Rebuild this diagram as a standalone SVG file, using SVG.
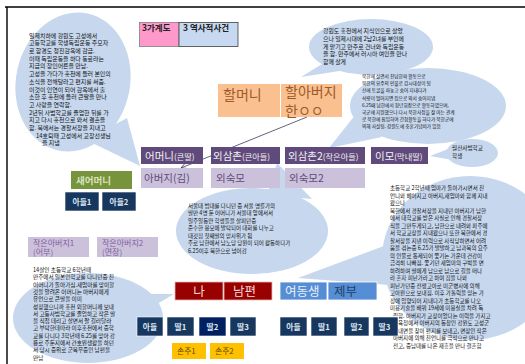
<svg xmlns="http://www.w3.org/2000/svg" width="525" height="364" viewBox="0 0 525 364">
<style>
.cl{fill:#C6D7EE}
.ct{font-family:"Noto Sans CJK KR","Noto Sans",sans-serif;fill:#111}
.k{font-family:"Noto Sans CJK KR","Noto Sans",sans-serif}
.pd{fill:#604A7B}
.pdt{fill:#F2F2F2;font-size:10.5px}
.pdt tspan{font-size:8.2px}
.pl{fill:#CCC1DA}
.plt{fill:#604A7B;font-size:10.5px}
.or{fill:#FAC090}
.ort{fill:#9C5A28;font-size:14px}
.nv{fill:#17375E;stroke:#FFFFFF;stroke-width:0.6}
.nvt{fill:#DCE6F2;font-size:7.8px;font-weight:bold;text-anchor:middle}
.rd{fill:#990000;stroke:#E6B9B8;stroke-width:0.8}
.rdt{fill:#F2DCDB;font-size:12.5px}
.sb{fill:#558ED5;stroke:#FFFFFF;stroke-width:0.8}
.yl{fill:#FFC000}
.ylt{fill:#5C4A00;font-size:7.8px}
.cnt{fill:none;stroke:#3A3F5A;stroke-width:0.8}
</style>
<defs>
<marker id="ah" markerWidth="8" markerHeight="8" refX="6" refY="3" orient="auto" markerUnits="userSpaceOnUse">
<path d="M0,0 L6,3 L0,6" fill="none" stroke="#3A3F5A" stroke-width="0.8"/>
</marker>
</defs>
<rect width="525" height="364" fill="#FFFFFF"/>
<path d="M5,7 H525 M7,7 V364" stroke="#000" stroke-width="1.4" fill="none"/>

<g id="legend">
<rect x="139.5" y="22.5" width="39.5" height="24" fill="#FF99CC" stroke="#7F7F7F" stroke-width="0.8"/>
<text x="142" y="31" class="k" font-size="8.5" font-weight="bold" fill="#222">3가계도</text>
<rect x="179" y="22.5" width="59" height="24" fill="#C6D9F1" stroke="#404040" stroke-width="0.8"/>
<text x="183" y="31" class="k" font-size="8.5" font-weight="bold" fill="#222">3 역사적사건</text>
</g>

<g id="callout-grandfather-left">
<ellipse class="cl" cx="73" cy="82" rx="57" ry="70" transform="rotate(12 73 82)"/>
<polygon class="cl" points="86,140 140,166 127,118"/>
<text class="ct" font-size="5.95">
<tspan x="29" y="37.5">일제치하에 강원도 고성에서</tspan>
<tspan x="29" y="45.2">고등학교를 학생독립운동 주모자</tspan>
<tspan x="29" y="52.9">로 함경도 청진감옥에 감금.</tspan>
<tspan x="29" y="60.6">이때 독립운동을 하다 동료라는</tspan>
<tspan x="29" y="68.3">지금의 장인어른을 만남.</tspan>
<tspan x="29" y="76">고성을 가다가 홍천에 들러 본인의</tspan>
<tspan x="29" y="83.8">소식을 전해달라고 편지를 써줌.</tspan>
<tspan x="29" y="91.5">이것이 인연이 되어 감옥에서 출</tspan>
<tspan x="29" y="99.2">소한 후 홍천에 들러 큰딸을 만나</tspan>
<tspan x="29" y="106.9">고 사랑을 연락함.</tspan>
<tspan x="29" y="114.6">2년뒤 사범학교를 졸업한 뒤를 가</tspan>
<tspan x="29" y="122.3">지고 다시 홍천으로 와서 결혼을</tspan>
<tspan x="29" y="130">함. 북에서는 경찰서장을 지내고</tspan>
<tspan x="36" y="137.7">14호퇴때 고성에서 교장선생님</tspan>
<tspan x="42" y="145.4">을 지냄</tspan>
</text>
</g>

<g id="callout-grandfather-top">
<ellipse class="cl" cx="371" cy="47" rx="62" ry="28"/>
<polygon class="cl" points="335,56 301,77 346,70"/>
<text class="ct" font-size="5.9">
<tspan x="323" y="33">강원도 홍천에서 지식인으로 살았</tspan>
<tspan x="323" y="40.8">으나 일제시대에 2남2녀를 부인에</tspan>
<tspan x="323" y="48.6">게 맡기고 만주로 건너와 독립운동</tspan>
<tspan x="323" y="56.4">을 함. 만주에서 러시아 여인을 만나</tspan>
<tspan x="323" y="64.2">함께 살게</tspan>
</text>
</g>

<g id="callout-uncle2">
<ellipse class="cl" cx="428" cy="106" rx="78" ry="38"/>
<polygon class="cl" points="356,114 329,148 382,137"/>
<text class="ct" font-size="4.7">
<tspan x="362" y="78">북한에 살면서 친남한파 활동으로</tspan>
<tspan x="362" y="85.2">북한의 요주의 인물로 감시대상이 됨</tspan>
<tspan x="362" y="92.4">산에 토굴을 파놓고 숨어 지내다가</tspan>
<tspan x="362" y="99.6">식량이 떨어지면 집으로 와서 숨어지냄</tspan>
<tspan x="362" y="106.8">6.25때 남한에서 청년회장으로 활동하였으며,</tspan>
<tspan x="362" y="114">국군에 지원했으나 다시 북한사정을 잘 아는 관계</tspan>
<tspan x="362" y="121.2">로 북한에 침입하여 간첩활동을 하다가 북한군에</tspan>
<tspan x="362" y="128.4">의해 사살됨. 강원도에 충혼기념비가 있음</tspan>
</text>
</g>

<g id="callout-aunt">
<ellipse class="cl" cx="472" cy="153" rx="26" ry="14"/>
<polygon class="cl" points="451,148 430,156 453,160"/>
<text class="ct" font-size="5.6">
<tspan x="452" y="150">월산사범학교</tspan>
<tspan x="452" y="158">학생</tspan>
</text>
</g>

<g id="callout-uncle1">
<ellipse class="cl" cx="252" cy="231" rx="76" ry="43"/>
<polygon class="cl" points="267,195 277,163 312,199"/>
<text class="ct" font-size="5.5">
<tspan x="188" y="207.5">서울대 법대를 다니던 중 서울 명륜가의</tspan>
<tspan x="188" y="215">딸만 4명 둔 어머니가 서울대 앞에서서</tspan>
<tspan x="188" y="222.5">일주일동안 학생들을 살피던중</tspan>
<tspan x="188" y="230">준수한 용모에 발탁되어 대화를 나누고</tspan>
<tspan x="188" y="237.5">대갓집 첫째딸의 맏사위가 됨</tspan>
<tspan x="188" y="245">주로 남한에서 남노당 당원이 되어 활동하다가</tspan>
<tspan x="188" y="252.5">6.25이후 북한으로 넘어감</tspan>
</text>
</g>

<g id="callout-sister">
<ellipse class="cl" cx="470" cy="258" rx="88" ry="82"/>
<polygon class="cl" points="400,240 298,278 402,286"/>
<text class="ct" font-size="5.5">
<tspan x="390" y="190">초등학교 2학년때 엄마가 돌아가시면서 친</tspan>
<tspan x="390" y="197.5">언니와 헤어지고 아버지,새엄마와 함께 지내</tspan>
<tspan x="390" y="205">왔으나</tspan>
<tspan x="390" y="212.5">북한에서 경찰서장을 지내던 아버지가 남한</tspan>
<tspan x="390" y="220">에서 대학교를 받은 사실로 인해 경찰서장</tspan>
<tspan x="390" y="227.5">직을 그만두게되고, 남한으로 내려와 파주에</tspan>
<tspan x="390" y="235">서 학교교장을 지내왔으나 또한 북한에서 경</tspan>
<tspan x="390" y="242.5">찰서장을 지낸 이력으로 사직당하면서 어려</tspan>
<tspan x="390" y="250">움을 겪는중 6.25가 발발하고 남과북의 요주</tspan>
<tspan x="390" y="257.5">의 인물로 통제되어 쫓기는 가운데 건강이</tspan>
<tspan x="390" y="265">급격히 나빠짐. 쫓기던 새엄마의 구박을 면</tspan>
<tspan x="390" y="272.5">하려하며 딸에게 남으로 남으로 길을 떠나</tspan>
<tspan x="390" y="280">라 혼자 피난가라고 하여 집을 나와</tspan>
<tspan x="390" y="287.5">피난가던중 전쟁고아로 미군병사에 의해</tspan>
<tspan x="390" y="295">고아원으로 보내짐. 이후 가톨릭을 믿는 가</tspan>
<tspan x="390" y="302.5">정에 입양되어 지내다가 초등학교를 나오</tspan>
<tspan x="390" y="310">미용기술을 배워 19세에 미용실을 차려 독</tspan>
<tspan x="393" y="317.5">립함. 아버지가 교장이었다는 이력을 가지고</tspan>
<tspan x="393" y="325.2">교육청에서 아버지의 동창인 강원도 고성군</tspan>
<tspan x="393" y="332.7">한내면을 찾아 편지를 보내고, 면장인 작은</tspan>
<tspan x="393" y="340.2">아버지에 의해 친언니를 극적으로 만나고</tspan>
<tspan x="393" y="347.7">전고, 중남대를 나온 재흥을 만나 결혼함</tspan>
</text>
</g>

<g id="callout-me">
<ellipse class="cl" cx="88" cy="318" rx="75" ry="45"/>
<polygon class="cl" points="115,294 174,294 130,320"/>
<text class="ct" font-size="5.6">
<tspan x="33" y="272">14살인 초등학교 6학년때</tspan>
<tspan x="33" y="279.3">만주에서 일본인학교를 다니던중 친</tspan>
<tspan x="33" y="286.6">어머니가 돌아가심.새엄마를 맞이할</tspan>
<tspan x="33" y="293.9">것을 알려온 어머니는 아버지에게</tspan>
<tspan x="33" y="301.2">유언으로 큰딸을 이미</tspan>
<tspan x="33" y="308.5">성장했으니까 홍천 외할머니께 보내</tspan>
<tspan x="33" y="315.8">서 고등사범학교를 졸업하고 작은 딸</tspan>
<tspan x="33" y="323.1">을 직접 데리고 살면서 잘 길러달라</tspan>
<tspan x="33" y="330.4">고 부탁한데따라 이후홍천에서 중학</tspan>
<tspan x="33" y="337.7">교를 다니다 3학년때 6.25를 맞아 강</tspan>
<tspan x="33" y="345">릉로 주둔지에서 간호원생활을 하던</tspan>
<tspan x="33" y="352.3">서 당시 중위로 군복무중인 남편을</tspan>
<tspan x="33" y="359.6">만남</tspan>
</text>
</g>

<g id="connectors">
<line class="cnt" x1="307" y1="117" x2="181" y2="168" marker-end="url(#ah)"/>
</g>

<g id="grandmother">
<rect class="or" x="218" y="84" width="62" height="33"/>
<text class="k ort" x="223" y="99.5">할머니</text>
</g>
<g id="grandfather">
<rect class="or" x="281" y="84" width="61" height="33"/>
<text class="k ort" font-size="12" x="285" y="96.5">할아버지</text>
<text class="k ort" font-size="12" x="285" y="115.5">한ㅇㅇ</text>
</g>

<g id="mother">
<rect class="pd" x="141" y="147" width="62" height="17"/>
<text class="k pdt" x="145" y="159.5">어머니<tspan>(큰딸)</tspan></text>
</g>
<g id="uncle1">
<rect class="pd" x="211" y="147" width="69" height="17"/>
<text class="k pdt" x="213" y="159.5">외삼촌<tspan>(큰아들)</tspan></text>
</g>
<g id="uncle2">
<rect class="pd" x="285" y="147" width="80" height="17"/>
<text class="k pdt" x="288" y="159.5">외삼촌2<tspan>(작은아들)</tspan></text>
</g>
<g id="aunt">
<rect class="pd" x="371" y="147" width="57" height="17"/>
<text class="k pdt" x="375" y="159.5">이모<tspan>(막내딸)</tspan></text>
</g>

<g id="father">
<rect class="pl" x="141" y="168" width="62" height="20"/>
<text class="k plt" x="144" y="182">아버지(김)</text>
</g>
<g id="aunt-in-law1">
<rect class="pl" x="211" y="168" width="69" height="20"/>
<text class="k plt" x="216" y="182">외숙모</text>
</g>
<g id="aunt-in-law2">
<rect class="pl" x="285" y="168" width="80" height="20"/>
<text class="k plt" x="289" y="182">외숙모2</text>
</g>

<g id="stepmother">
<rect x="71" y="171" width="61" height="18" fill="#77933C"/>
<text class="k" x="76" y="183.5" font-size="9.5" font-weight="bold" fill="#D7E4BD">새어머니</text>
</g>
<g id="son1">
<rect class="nv" x="65" y="192" width="34" height="19"/>
<text class="k nvt" x="82" y="204.5">아들1</text>
</g>
<g id="son2">
<rect class="nv" x="102" y="192" width="34" height="19"/>
<text class="k nvt" x="119" y="204.5">아들2</text>
</g>

<g id="uncle-f1">
<rect class="pl" x="28" y="237" width="61" height="20"/>
<text class="k" font-size="8" fill="#7F5FA3"><tspan x="33" y="245.5">작은아버지1</tspan><tspan x="33" y="255.3">(어부)</tspan></text>
</g>
<g id="uncle-f2">
<rect class="pl" x="97" y="237" width="61" height="20"/>
<text class="k" font-size="8" fill="#7F5FA3"><tspan x="102" y="245.5">작은아버지2</tspan><tspan x="102" y="255.3">(면장)</tspan></text>
</g>

<g id="me">
<rect class="rd" x="175" y="282" width="48" height="18"/>
<text class="k rdt" x="199" y="296" text-anchor="middle">나</text>
</g>
<g id="husband">
<rect class="rd" x="224" y="282" width="48" height="18"/>
<text class="k rdt" x="233" y="296">남편</text>
</g>
<g id="sister">
<rect class="sb" x="280" y="282" width="47" height="18"/>
<text class="k" x="285" y="296" font-size="12.5" fill="#EAF0F8">여동생</text>
</g>
<g id="brother-in-law">
<rect class="sb" x="328" y="282" width="49" height="18"/>
<text class="k" x="334" y="296" font-size="12.5" fill="#1F3F66">제부</text>
</g>

<g id="my-son">
<rect class="nv" x="137" y="317" width="26" height="19"/>
<text class="k nvt" x="150" y="329.5">아들</text>
</g>
<g id="my-daughter1">
<rect class="nv" x="167" y="317" width="27" height="19"/>
<text class="k nvt" x="180.5" y="329.5">딸1</text>
</g>
<g id="my-daughter2">
<rect x="199" y="317" width="27" height="19" fill="#002060" stroke="#FFFFFF" stroke-width="0.6"/>
<text class="k nvt" x="212.5" y="329.5">딸2</text>
</g>
<g id="my-daughter3">
<rect class="nv" x="230" y="317" width="26" height="19"/>
<text class="k nvt" x="243" y="329.5">딸3</text>
</g>

<g id="sis-son">
<rect class="nv" x="280" y="317" width="27" height="19"/>
<text class="k nvt" x="293.5" y="329.5">아들</text>
</g>
<g id="sis-daughter1">
<rect class="nv" x="311" y="317" width="26" height="19"/>
<text class="k nvt" x="324" y="329.5">딸1</text>
</g>
<g id="sis-daughter2">
<rect class="nv" x="344" y="317" width="25" height="19"/>
<text class="k nvt" x="356.5" y="329.5">딸2</text>
</g>
<g id="sis-daughter3">
<rect class="nv" x="373" y="317" width="25" height="19"/>
<text class="k nvt" x="384.5" y="329.5">딸3</text>
</g>

<g id="grandchild1">
<rect class="yl" x="172" y="343" width="34" height="16"/>
<text class="k ylt" x="177" y="354">손주1</text>
</g>
<g id="grandchild2">
<rect class="yl" x="210" y="343" width="34" height="16"/>
<text class="k ylt" x="215" y="354">손주2</text>
</g>
</svg>
